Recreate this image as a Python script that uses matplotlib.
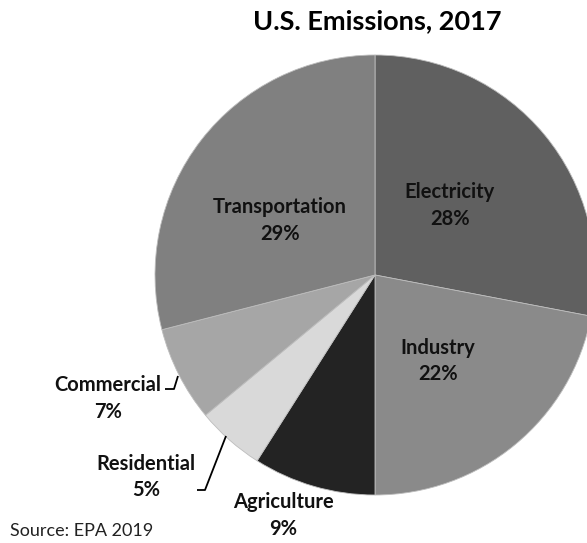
import matplotlib
matplotlib.use("Agg")
import matplotlib.pyplot as plt

sectors = ["Electricity", "Industry", "Agriculture", "Residential", "Commercial", "Transportation"]
shares = [28, 22, 9, 5, 7, 29]
colors = ["#606060", "#8a8a8a", "#232323", "#d9d9d9", "#a6a6a6", "#808080"]
title = "U.S. Emissions, 2017"
source = "Source: EPA 2019"

W, H = 587, 543
fig = plt.figure(figsize=(W / 100, H / 100), dpi=100)
ax = fig.add_axes([0, 0, 1, 1])

def Y(y):
    return H - y

ax.pie(shares, colors=colors, startangle=90, counterclock=False,
       center=(375, Y(275)), radius=220, frame=True,
       wedgeprops=dict(linewidth=0.6, edgecolor="#bdbdbd"))
ax.set_xlim(0, W)
ax.set_ylim(0, H)
ax.set_aspect("equal")
ax.axis("off")

fam = ["Lato", "DejaVu Sans"]
# (x, y of name line, y of percent line) in pixel coordinates
label_pos = {
    "Electricity": (450, 190, 217),
    "Industry": (438, 346, 372),
    "Agriculture": (283, 500, 527),
    "Residential": (146, 462, 488),
    "Commercial": (108, 383, 410),
    "Transportation": (280, 205, 232),
}
for name, val in zip(sectors, shares):
    x, y1, y2 = label_pos[name]
    ax.text(x, Y(y1), name, ha="center", va="center_baseline",
            fontsize=14.5, fontweight="bold", family=fam, color="#111111")
    ax.text(x, Y(y2), f"{val}%", ha="center", va="center_baseline",
            fontsize=14.5, fontweight="bold", family=fam, color="#111111")

# leader lines
ax.plot([165, 174, 178], [Y(389), Y(389), Y(376)], color="black", lw=1.3,
        solid_capstyle="butt")
ax.plot([197, 205, 226], [Y(490), Y(490), Y(436)], color="black", lw=1.3,
        solid_capstyle="butt")

ax.text(377, Y(19), title, ha="center", va="center_baseline", fontsize=19.5,
        fontweight="bold", family=fam, color="black")
ax.text(10, Y(529), source, ha="left", va="center_baseline", fontsize=13,
        family=fam, color="#222222")

fig.savefig("out.png", dpi=100, facecolor="white")
